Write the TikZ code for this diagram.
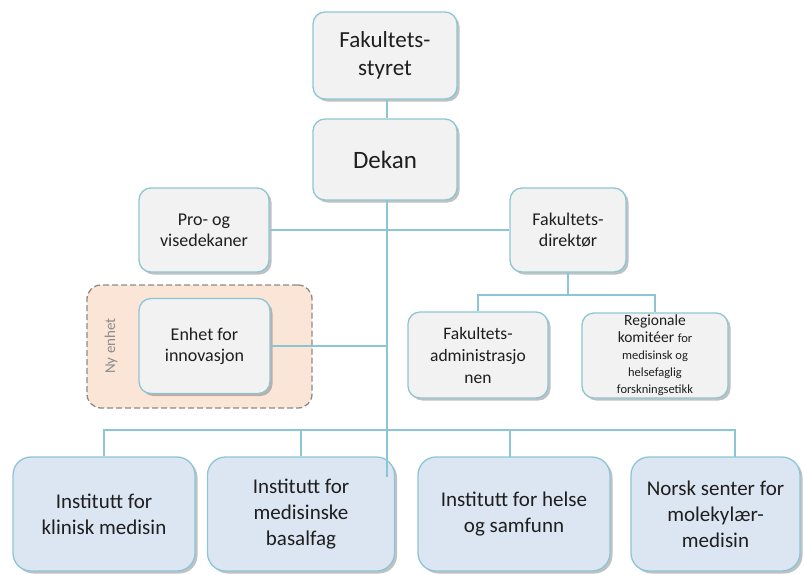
\documentclass[tikz,border=0pt]{standalone}
\usepackage{fontspec}
\setmainfont{Carlito}
\usetikzlibrary{shadows}
\definecolor{ln}{RGB}{140,198,214}
\definecolor{bx}{RGB}{242,242,242}
\definecolor{bb}{RGB}{220,230,242}
\definecolor{pe}{RGB}{251,229,214}
\definecolor{tx}{RGB}{30,30,30}
\definecolor{dg}{RGB}{140,140,140}
\begin{document}
\begin{tikzpicture}[x=1pt,y=-1pt,
  box/.style={draw=ln, line width=1.3pt, fill=bx, rounded corners=12pt, align=center, text=tx, inner sep=1pt,
    drop shadow={shadow xshift=2.5pt, shadow yshift=-2.5pt, opacity=0.35, fill=black!70}},
  bbox/.style={box, fill=bb, rounded corners=18pt},
  conn/.style={draw=ln, line width=1.3pt},
  big/.style={font=\fontsize{23}{28}\selectfont},
  mid/.style={font=\fontsize{18}{21}\selectfont},
  inst/.style={font=\fontsize{21}{26}\selectfont}]
\useasboundingbox (0,0) rectangle (804,574);
% new unit frame
\node[draw=dg, dash pattern=on 6pt off 3pt, line width=1.3pt, fill=pe, rounded corners=14pt, minimum width=225pt, minimum height=123pt] (ny) at (199.5,346.5) {};
\node[rotate=90, text=dg, font=\fontsize{15}{17}\selectfont] (nytxt) at (111,346) {Ny enhet};
% boxes
\node[box, big, minimum width=144pt, minimum height=87pt] (styret) at (385,55.5) {Fakultets-\\styret};
\node[box, font=\fontsize{25}{30}\selectfont, minimum width=144pt, minimum height=81pt] (dekan) at (385,159.5) {Dekan};
\node[box, mid, minimum width=130pt, minimum height=84pt] (pro) at (204,230) {Pro- og\\visedekaner};
\node[box, mid, minimum width=116pt, minimum height=84pt] (dir) at (568,230) {Fakultets-\\direktør};
\node[box, font=\fontsize{17.5}{22}\selectfont, minimum width=140pt, minimum height=86pt] (adm) at (478,355) {Fakultets-\\administrasjo\\nen};
\node[box, font=\fontsize{15.5}{17}\selectfont, minimum width=146pt, minimum height=85pt] (rek) at (655,355.5)
  {Regionale\\komitéer {\fontsize{12.5}{17}\selectfont for}\\{\fontsize{12.5}{17}\selectfont medisinsk og}\\{\fontsize{12.5}{17}\selectfont helsefaglig}\\{\fontsize{12.5}{17}\selectfont forskningsetikk}};
\node[box, mid, minimum width=131pt, minimum height=95pt] (inn) at (204.5,346) {Enhet for\\innovasjon};
\node[bbox, inst, minimum width=182pt, minimum height=114pt] (i1) at (104,514) {Institutt for\\klinisk medisin};
\node[bbox, inst, minimum width=187pt, minimum height=114pt] (i2) at (301,514) {Institutt for\\medisinske\\basalfag};
\node[bbox, inst, minimum width=192pt, minimum height=114pt] (i3) at (514,514) {Institutt for helse\\og samfunn};
\node[bbox, inst, minimum width=169pt, minimum height=114pt] (i4) at (715.5,514) {Norsk senter for\\molekylær-\\medisin};
% connectors
\coordinate (mtop) at (387,200);
\coordinate (mend) at (387,477);
\coordinate (j1) at (568,295);
\coordinate (bl) at (104,430);
\coordinate (br) at (735,430);
\coordinate (t3) at (510,457);
\coordinate (t4) at (735,457);
\draw[conn] (styret.south -| mtop) -- (dekan.north -| mtop);
\draw[conn] (pro.east) -- (dir.west);
\draw[conn] (dir.south) -- (j1);
\draw[conn] (adm.north) |- (j1) -| (rek.north);
\draw[conn] (inn.east) -- (inn.east -| mtop);
\draw[conn] (i1.north) -- (bl) -- (br) -- (t4);
\draw[conn] (i2.north) -- (i2.north |- bl);
\draw[conn] (t3) -- (t3 |- bl);
\draw[conn] (mtop) -- (mend);
\end{tikzpicture}
\end{document}
